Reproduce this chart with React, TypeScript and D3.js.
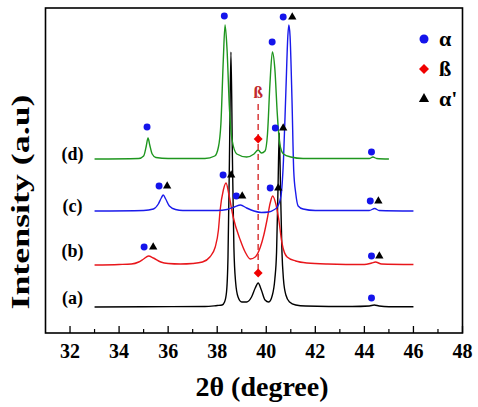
import React, { useEffect, useRef } from 'react';
import * as d3 from 'd3';

// XRD patterns, [2theta, intensity above own baseline]
const patternA: [number, number][] = [
  [33, 0], [35, 0.3], [37.5, 0.5], [38.0, 1.5], [38.2, 2], [38.3, 5], [38.38, 15], [38.44, 50],
  [38.5, 150], [38.56, 255], [38.62, 150], [38.68, 60], [38.75, 25], [38.85, 10], [39.0, 5],
  [39.2, 5], [39.4, 10], [39.55, 19], [39.67, 24], [39.8, 17], [39.95, 7], [40.1, 5],
  [40.25, 12], [40.35, 28], [40.42, 55], [40.48, 120], [40.53, 174], [40.58, 120], [40.64, 55],
  [40.7, 28], [40.8, 12], [40.95, 5], [41.2, 2], [41.6, 1], [43.5, 0.5], [44.2, 1], [44.4, 2],
  [44.6, 1], [45, 0.3], [46, 0.3],
];
const patternB: [number, number][] = [
  [33, 0], [34.0, 0.5], [34.5, 1], [34.8, 3], [35.0, 6], [35.2, 9], [35.4, 7], [35.7, 3],
  [36.0, 1.5], [36.5, 1], [37.0, 1.5], [37.4, 3], [37.7, 8], [37.92, 18], [38.05, 35],
  [38.12, 55], [38.25, 75], [38.36, 82], [38.48, 70], [38.65, 48], [38.94, 25], [39.14, 13],
  [39.35, 6], [39.55, 8], [39.76, 18], [39.9, 30], [40.03, 45], [40.16, 62], [40.26, 69],
  [40.38, 62], [40.5, 47], [40.64, 22], [40.85, 8], [41.2, 4], [41.66, 2], [42.5, 1],
  [44.0, 0.5], [44.3, 2], [44.45, 3], [44.7, 1], [46, 0.5],
];
const patternC: [number, number][] = [
  [33, 0], [35.0, 0.5], [35.4, 2], [35.6, 7], [35.72, 13], [35.8, 16], [35.9, 12], [36.05, 5],
  [36.3, 1.5], [36.6, 0.5], [38.0, 0.5], [38.4, 1.5], [38.7, 4], [38.95, 6], [39.2, 3],
  [39.5, 0], [39.8, -1.5], [40.1, -1], [40.3, 1], [40.45, 4], [40.6, 15], [40.7, 50],
  [40.8, 120], [40.88, 175], [40.92, 186], [40.97, 175], [41.05, 110], [41.12, 40], [41.2, 18],
  [41.3, 5], [41.5, 2], [42, 0.5], [44.2, 0.5], [44.42, 2.5], [44.6, 0.5], [46, 0],
];
const patternD: [number, number][] = [
  [33, 0], [34.8, 0.5], [35.0, 3], [35.1, 12], [35.18, 21], [35.25, 14], [35.35, 5], [35.5, 1.5],
  [36, 0.5], [37.5, 0.5], [37.9, 3], [38.05, 12], [38.15, 35], [38.25, 100], [38.32, 134],
  [38.4, 110], [38.5, 50], [38.6, 20], [38.8, 5], [39.2, 2], [39.5, 5], [39.67, 9], [39.8, 6],
  [39.95, 8], [40.05, 25], [40.15, 75], [40.25, 107], [40.35, 90], [40.45, 45], [40.55, 15],
  [40.7, 5], [41.0, 2], [41.5, 0.5], [44.2, 0.5], [44.35, 2], [44.5, 0.5], [45, 0],
];

const patterns = [patternA, patternB, patternC, patternD];
const patternNames = ['(a)', '(b)', '(c)', '(d)'];
const patternColors = ['#000000', '#e8161b', '#1a1aeb', '#1e961e'];
const offsets = [26, 68, 122, 174];
const labelLevels = [29, 76, 121, 173];

// phase markers, [2theta, level]
const alphaMarks: [number, number][] = [
  [38.29, 317], [40.24, 291], [40.69, 316], [35.14, 206], [44.29, 181], [40.37, 205],
  [38.24, 158], [38.78, 137], [40.16, 145], [35.63, 147], [35.02, 86], [44.24, 132],
  [44.29, 77], [44.29, 35],
];
const alphaPrimeMarks: [number, number][] = [
  [41.06, 316], [40.69, 205], [38.57, 158], [39.02, 137], [40.49, 145], [35.96, 147],
  [35.39, 86], [44.57, 132], [44.61, 77],
];
const betaMarks: [number, number][] = [[39.67, 194], [39.67, 60]];
const betaLine = { x: 39.67, from: 63, to: 229, label: 235 };

const majorTicks = [32, 34, 36, 38, 40, 42, 44, 46, 48];
const minorTicks = [33, 35, 37, 39, 41, 43, 45, 47];

const W = 478;
const H = 407;
const FONT = 'Liberation Serif, DejaVu Serif, Times New Roman, serif';

export default function App() {
  const svgRef = useRef<SVGSVGElement>(null);

  useEffect(() => {
    if (!svgRef.current) return;
    const svg = d3.select(svgRef.current);
    svg.selectAll('*').remove();

    const left = 45.5, right = 462.5, top = 8, bottom = 333;
    const x = d3.scaleLinear().domain([31, 48]).range([left, right]);
    const y = d3.scaleLinear().domain([0, 325]).range([bottom, top]);

    svg.append('rect').attr('width', W).attr('height', H).attr('fill', '#fff');

    // curves
    patterns.forEach((p, i) => {
      const line = d3
        .line<[number, number]>()
        .x((d) => x(d[0]))
        .y((d) => y(d[1] + offsets[i]))
        .curve(d3.curveMonotoneX);
      svg
        .append('path')
        .attr('d', line(p) || '')
        .attr('fill', 'none')
        .attr('stroke', patternColors[i])
        .attr('stroke-width', 1.4);

      svg
        .append('text')
        .attr('x', x(32.1))
        .attr('y', y(labelLevels[i]))
        .attr('text-anchor', 'middle')
        .attr('font-family', FONT)
        .attr('font-weight', 'bold')
        .attr('font-size', 18)
        .text(patternNames[i]);
    });

    // beta dashed guide
    svg
      .append('line')
      .attr('x1', x(betaLine.x))
      .attr('x2', x(betaLine.x))
      .attr('y1', y(betaLine.to))
      .attr('y2', y(betaLine.from))
      .attr('stroke', '#d83a3a')
      .attr('stroke-width', 1.5)
      .attr('stroke-dasharray', '6,4');
    svg
      .append('text')
      .attr('x', x(betaLine.x))
      .attr('y', y(betaLine.label))
      .attr('text-anchor', 'middle')
      .attr('font-family', FONT)
      .attr('font-weight', 'bold')
      .attr('font-size', 17)
      .attr('fill', '#c0282d')
      .text('ß');

    const circle = d3.symbol(d3.symbolCircle, 38)();
    const tri = d3.symbol(d3.symbolTriangle, 30)();
    const square = d3.symbol(d3.symbolSquare, 40)();

    svg
      .selectAll('.alpha')
      .data(alphaMarks)
      .enter()
      .append('path')
      .attr('d', circle || '')
      .attr('transform', (d) => `translate(${x(d[0])},${y(d[1])})`)
      .attr('fill', '#1414eb');
    svg
      .selectAll('.alphap')
      .data(alphaPrimeMarks)
      .enter()
      .append('path')
      .attr('d', tri || '')
      .attr('transform', (d) => `translate(${x(d[0])},${y(d[1])})`)
      .attr('fill', '#000');
    svg
      .selectAll('.beta')
      .data(betaMarks)
      .enter()
      .append('path')
      .attr('d', square || '')
      .attr('transform', (d) => `translate(${x(d[0])},${y(d[1])}) rotate(45)`)
      .attr('fill', '#f00000');

    // frame + ticks
    svg
      .append('rect')
      .attr('x', left)
      .attr('y', top)
      .attr('width', right - left)
      .attr('height', bottom - top)
      .attr('fill', 'none')
      .attr('stroke', '#000')
      .attr('stroke-width', 1.6);

    svg
      .selectAll('.major')
      .data(majorTicks)
      .enter()
      .append('line')
      .attr('x1', (d) => x(d))
      .attr('x2', (d) => x(d))
      .attr('y1', bottom)
      .attr('y2', bottom - 7)
      .attr('stroke', '#000')
      .attr('stroke-width', 1.3);
    svg
      .selectAll('.minor')
      .data(minorTicks)
      .enter()
      .append('line')
      .attr('x1', (d) => x(d))
      .attr('x2', (d) => x(d))
      .attr('y1', bottom)
      .attr('y2', bottom - 4)
      .attr('stroke', '#000')
      .attr('stroke-width', 1.2);
    svg
      .selectAll('.ticklabel')
      .data(majorTicks)
      .enter()
      .append('text')
      .attr('x', (d) => x(d))
      .attr('y', 358)
      .attr('text-anchor', 'middle')
      .attr('font-family', FONT)
      .attr('font-weight', 'bold')
      .attr('font-size', 20)
      .text((d) => d);

    // axis titles
    svg
      .append('text')
      .attr('x', 262)
      .attr('y', 396)
      .attr('text-anchor', 'middle')
      .attr('font-family', FONT)
      .attr('font-weight', 'bold')
      .attr('font-size', 28)
      .text('2θ (degree)');
    svg
      .append('text')
      .attr('transform', 'translate(29,202) rotate(-90)')
      .attr('text-anchor', 'middle')
      .attr('textLength', 215)
      .attr('lengthAdjust', 'spacingAndGlyphs')
      .attr('font-family', FONT)
      .attr('font-weight', 'bold')
      .attr('font-size', 25)
      .text('Intensity (a.u)');

    // legend
    const legend = [
      { sym: d3.symbol(d3.symbolCircle, 64)(), color: '#1414eb', label: 'α', rot: 0 },
      { sym: d3.symbol(d3.symbolSquare, 50)(), color: '#f00000', label: 'ß', rot: 45 },
      { sym: d3.symbol(d3.symbolTriangle, 45)(), color: '#000', label: "α'", rot: 0 },
    ];
    const lg = svg
      .selectAll('.legend')
      .data(legend)
      .enter()
      .append('g')
      .attr('transform', (d, i) => `translate(424,${39 + i * 30})`);
    lg.append('path')
      .attr('d', (d) => d.sym || '')
      .attr('transform', (d) => `rotate(${d.rot})`)
      .attr('fill', (d) => d.color);
    lg.append('text')
      .attr('x', 15)
      .attr('y', 7)
      .attr('font-family', FONT)
      .attr('font-weight', 'bold')
      .attr('font-size', 22)
      .text((d) => d.label);
  }, []);

  return (
    <svg
      ref={svgRef}
      width={W}
      height={H}
      style={{ position: 'absolute', left: 0, top: 0 }}
    ></svg>
  );
}
